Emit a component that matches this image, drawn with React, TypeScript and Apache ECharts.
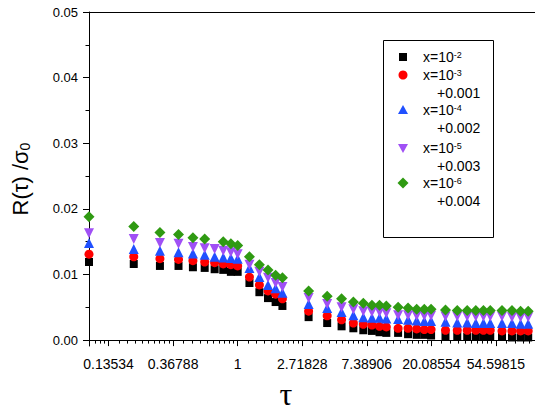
import React, { useEffect, useRef } from "react";
import * as echarts from "echarts";

// tau values (x axis, natural-log scale)
const tau = [0.1, 0.2, 0.3, 0.4, 0.5, 0.6, 0.7, 0.8, 0.9, 1, 1.2, 1.4, 1.6, 1.8, 2, 3, 4, 5, 6, 7, 8, 9, 10, 12, 14, 16, 18, 20, 25, 30, 35, 40, 45, 50, 60, 70, 80, 90];

// R(tau)/sigma0 values as plotted (offsets already included)
const s1e2 = [0.0119, 0.0116, 0.0113, 0.0113, 0.0111, 0.011, 0.0108, 0.0107, 0.0104, 0.0104, 0.0087, 0.0073, 0.0064, 0.0058, 0.0052, 0.0035, 0.0026, 0.0021, 0.0018, 0.0015, 0.0014, 0.0012, 0.0011, 0.0011, 0.0009, 0.0008, 0.0008, 0.0007, 0.0006, 0.0006, 0.0005, 0.0005, 0.0005, 0.0005, 0.0005, 0.0004, 0.0004, 0.0004];
const s1e3 = [0.0131, 0.0127, 0.0124, 0.0123, 0.0121, 0.0119, 0.0118, 0.0116, 0.0115, 0.0113, 0.0096, 0.0084, 0.0075, 0.007, 0.0063, 0.0044, 0.0037, 0.0031, 0.0026, 0.0024, 0.0023, 0.0021, 0.002, 0.0018, 0.0018, 0.0017, 0.0016, 0.0016, 0.0015, 0.0015, 0.0015, 0.0015, 0.0015, 0.0015, 0.0014, 0.0014, 0.0014, 0.0014];
const s1e4 = [0.0148, 0.0139, 0.0136, 0.0134, 0.0132, 0.013, 0.0127, 0.0126, 0.0125, 0.0124, 0.011, 0.0096, 0.0084, 0.0079, 0.0072, 0.0055, 0.0049, 0.0043, 0.0038, 0.0035, 0.0034, 0.0034, 0.0033, 0.0032, 0.0031, 0.003, 0.0029, 0.0029, 0.0028, 0.0027, 0.0027, 0.0026, 0.0026, 0.0026, 0.0026, 0.0026, 0.0025, 0.0025];
const s1e5 = [0.0163, 0.0154, 0.0148, 0.0147, 0.0142, 0.014, 0.0139, 0.0136, 0.0134, 0.0131, 0.0115, 0.0104, 0.0095, 0.0087, 0.0081, 0.0064, 0.0055, 0.005, 0.0047, 0.0044, 0.0043, 0.0043, 0.0041, 0.0038, 0.0038, 0.0037, 0.0037, 0.0037, 0.0036, 0.0036, 0.0036, 0.0036, 0.0036, 0.0036, 0.0036, 0.0035, 0.0035, 0.0035];
const s1e6 = [0.0188, 0.0173, 0.0164, 0.0161, 0.0156, 0.0154, null, 0.015, 0.0147, 0.0144, 0.0127, 0.0115, 0.0107, 0.0099, 0.0095, 0.0075, 0.0067, 0.0063, 0.0058, 0.0056, 0.0053, 0.0053, 0.0052, 0.005, 0.0049, 0.0047, 0.0047, 0.0047, 0.0046, 0.0045, 0.0045, 0.0045, 0.0045, 0.0045, 0.0045, 0.0045, 0.0044, 0.0044];

const seriesNames = ["x=10^-2", "x=10^-3 +0.001", "x=10^-4 +0.002", "x=10^-5 +0.003", "x=10^-6 +0.004"];
const seriesValues = [s1e2, s1e3, s1e4, s1e5, s1e6];
const seriesColors = ["#000000", "#ff0000", "#2050ff", "#a050f5", "#2f9a12"];

const legendMain = ["x=10{sup|-2}", "x=10{sup|-3}", "x=10{sup|-4}", "x=10{sup|-5}", "x=10{sup|-6}"];
const legendOffset = ["", "+0.001", "+0.002", "+0.003", "+0.004"];

const xTickLabels = ["0.13534", "0.36788", "1", "2.71828", "7.38906", "20.08554", "54.59815"];
const yTickLabels = ["0.00", "0.01", "0.02", "0.03", "0.04", "0.05"];
const yMinorTicks = [0.005, 0.015, 0.025, 0.035, 0.045];

const FONT = "'Liberation Sans', Arial, sans-serif";

export default function App() {
  const ref = useRef<HTMLDivElement>(null);
  useEffect(() => {
    if (!ref.current) return;
    const chart = echarts.init(ref.current, null, { renderer: "svg" });
    const xMajor = xTickLabels.map(Number);
    const xMinor: number[] = [];
    for (let k = -3; k <= 4; k++) {
      const a = Math.exp(k);
      const b = Math.exp(k + 1);
      for (let j = 1; j <= 9; j++) {
        const v = a + (j * (b - a)) / 10;
        if (v > 0.1 && v < 100) xMinor.push(v);
      }
    }
    const yMajor = yTickLabels.map(Number);
    const xFmt = (v: number) => {
      let best = 0;
      for (let i = 1; i < xMajor.length; i++) {
        if (Math.abs(Math.log(xMajor[i]) - Math.log(v)) < Math.abs(Math.log(xMajor[best]) - Math.log(v))) best = i;
      }
      return xTickLabels[best];
    };
    const symbols = ["rect", "circle", "triangle", "triangle", "diamond"];
    const sizes = [8, 9, 10, 10, 11];
    const rotates = [0, 0, 0, 180, 0];

    const legendY = [57, 75, 110, 148, 183];
    const legendGraphics: any[] = [
      {
        type: "rect",
        shape: { x: 383.5, y: 40.5, width: 110, height: 197 },
        style: { fill: "#fff", stroke: "#000", lineWidth: 1 },
        z: 10,
      },
      { type: "rect", shape: { x: 399, y: legendY[0] - 4, width: 8, height: 8 }, style: { fill: seriesColors[0] }, z: 11 },
      { type: "circle", shape: { cx: 403, cy: legendY[1], r: 4.5 }, style: { fill: seriesColors[1] }, z: 11 },
      { type: "polygon", shape: { points: [[403, legendY[2] - 5], [408, legendY[2] + 4], [398, legendY[2] + 4]] }, style: { fill: seriesColors[2] }, z: 11 },
      { type: "polygon", shape: { points: [[398, legendY[3] - 4], [408, legendY[3] - 4], [403, legendY[3] + 5]] }, style: { fill: seriesColors[3] }, z: 11 },
      { type: "polygon", shape: { points: [[403, legendY[4] - 5.5], [408.5, legendY[4]], [403, legendY[4] + 5.5], [397.5, legendY[4]]] }, style: { fill: seriesColors[4] }, z: 11 },
    ];
    legendMain.forEach((t, i) => {
      legendGraphics.push({
        type: "text",
        x: 423,
        y: legendY[i],
        z: 11,
        style: {
          text: t,
          fontSize: 14,
          fontFamily: FONT,
          fill: "#000",
          align: "left",
          verticalAlign: "middle",
          rich: { sup: { fontSize: 9, fontFamily: FONT, verticalAlign: "top", lineHeight: 8 } },
        },
      });
      if (legendOffset[i]) {
        legendGraphics.push({
          type: "text",
          x: 437,
          y: legendY[i] + 17.5,
          z: 11,
          style: { text: legendOffset[i], fontSize: 14, fontFamily: FONT, fill: "#000", align: "left", verticalAlign: "middle" },
        });
      }
    });

    const baseLog = { type: "log", logBase: Math.E, min: 0.1, max: 100, gridIndex: 0 };
    const option: any = {
      animation: false,
      backgroundColor: "#fff",
      textStyle: { fontFamily: FONT },
      grid: { left: 88, right: -2, top: 12, bottom: 66 },
      xAxis: [
        {
          ...baseLog,
          position: "bottom",
          axisLine: { show: true, lineStyle: { color: "#000", width: 1 } },
          axisTick: { show: true, customValues: xMajor, length: 6, lineStyle: { color: "#000" } },
          axisLabel: { show: true, customValues: xMajor, formatter: xFmt, fontSize: 14, color: "#000", margin: 11, fontFamily: FONT },
          splitLine: { show: false },
          minorTick: { show: false },
        },
        {
          ...baseLog,
          position: "bottom",
          axisLine: { show: false },
          axisTick: { show: true, customValues: xMinor, length: 3.5, lineStyle: { color: "#000" } },
          axisLabel: { show: false },
          splitLine: { show: false },
        },
        {
          ...baseLog,
          position: "top",
          axisLine: { show: true, lineStyle: { color: "#000", width: 1 } },
          axisTick: { show: false },
          axisLabel: { show: false },
          splitLine: { show: false },
        },
      ],
      yAxis: [
        {
          type: "value",
          min: -0.0009,
          max: 0.05,
          position: "left",
          axisLine: { show: true, lineStyle: { color: "#000", width: 1 } },
          axisTick: { show: true, customValues: yMajor, length: 6, lineStyle: { color: "#000" } },
          axisLabel: { show: true, customValues: yMajor, formatter: (v: number) => v.toFixed(2), fontSize: 13, color: "#000", margin: 11, fontFamily: FONT },
          splitLine: { show: false },
          name: "R(τ) /σ{sub|0}",
          nameLocation: "middle",
          nameRotate: 90,
          nameGap: 57,
          nameTextStyle: {
            fontSize: 22,
            color: "#000",
            fontFamily: FONT,
            lineHeight: 24,
            rich: { sub: { fontSize: 14, fontFamily: FONT, color: "#000", verticalAlign: "bottom", lineHeight: 6 } },
          },
        },
        {
          type: "value",
          min: -0.0009,
          max: 0.05,
          position: "left",
          axisLine: { show: false },
          axisTick: { show: true, customValues: yMinorTicks, length: 3.5, lineStyle: { color: "#000" } },
          axisLabel: { show: false },
          splitLine: { show: false },
        },
      ],
      series: seriesValues.map((vals, i) => ({
        type: "scatter",
        name: seriesNames[i],
        xAxisIndex: 0,
        yAxisIndex: 0,
        symbol: symbols[i],
        symbolSize: sizes[i],
        symbolRotate: rotates[i],
        clip: true,
        itemStyle: { color: seriesColors[i], opacity: 1 },
        data: tau.map((t, j) => [t, vals[j]]).filter((p) => p[1] !== null),
      })),
      graphic: [
        ...legendGraphics,
        {
          type: "text",
          x: 286,
          y: 410,
          style: { text: "τ", fontSize: 32, fontFamily: "'Liberation Serif', serif", fill: "#000", align: "center", verticalAlign: "bottom" },
        },
      ],
    };
    chart.setOption(option);
    return () => chart.dispose();
  }, []);
  return <div ref={ref} style={{ position: "fixed", left: 0, top: 0, width: 535, height: 412 }} />;
}
